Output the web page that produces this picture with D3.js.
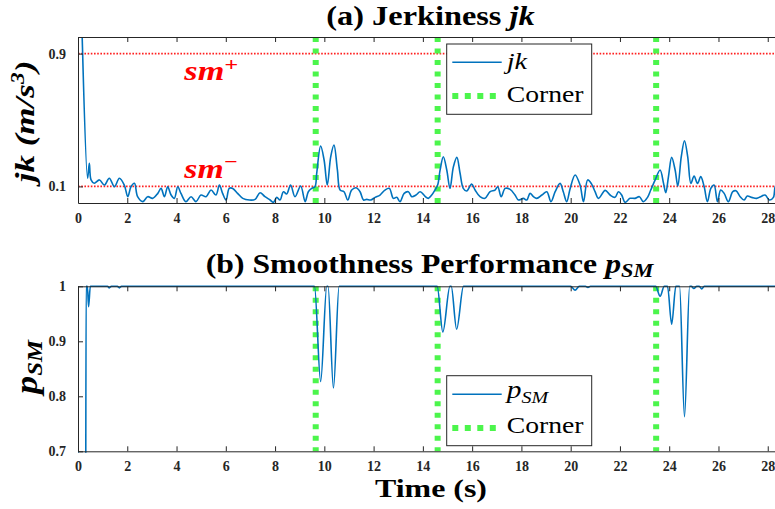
<!DOCTYPE html>
<html>
<head>
<meta charset="utf-8">
<script src="https://cdn.jsdelivr.net/npm/d3@7"></script>
<style>
body { margin: 0; background: #fff; }
svg { display: block; }
</style>
</head>
<body>
<div id="chart"></div>
<script>
const svgWidth = 775;
const svgHeight = 509;

// time ticks shared by both panels
const xTicks = [0, 2, 4, 6, 8, 10, 12, 14, 16, 18, 20, 22, 24, 26, 28];
const jkTicks = [0.1, 0.9];
const pTicks = [0.7, 0.8, 0.9, 1];

// corner instants (s) and smoothness bounds
const corners = [9.65, 14.6, 23.47];
const smBounds = [0.9, 0.1];

// jerkiness jk
const jkTime = [0, 0.04, 0.1, 0.17, 0.39, 0.46, 0.53, 0.66, 0.87, 1.07, 1.27, 1.48, 1.68, 1.88, 2.02, 2.15, 2.29, 2.42, 2.63, 2.83,
  3.03, 3.24, 3.37, 3.51, 3.64, 3.78, 3.91, 4.05, 4.18, 4.38, 4.59, 4.79, 4.99, 5.2, 5.4, 5.6, 5.74, 5.87, 6.01, 6.14,
  6.28, 6.48, 6.69, 6.96, 7.19, 7.39, 7.59, 7.8, 7.93, 8.07, 8.2, 8.34, 8.47, 8.63, 8.81, 9.04, 9.22, 9.35, 9.49, 9.62,
  9.69, 9.85, 9.99, 10.12, 10.26, 10.39, 10.53, 10.64, 10.8, 10.95, 11.11, 11.29, 11.45, 11.59, 11.72, 11.88, 12.06, 12.26, 12.46, 12.64,
  12.8, 12.94, 13.07, 13.24, 13.41, 13.55, 13.72, 13.89, 14.09, 14.22, 14.36, 14.49, 14.6, 14.7, 14.83, 14.97, 15.1, 15.24, 15.38, 15.51,
  15.64, 15.78, 15.98, 16.12, 16.32, 16.52, 16.73, 16.93, 17.04, 17.18, 17.34, 17.54, 17.74, 17.88, 18.08, 18.22, 18.35, 18.49, 18.62, 18.83,
  19.03, 19.2, 19.37, 19.57, 19.7, 19.84, 19.98, 20.18, 20.38, 20.52, 20.69, 20.85, 20.99, 21.13, 21.4, 21.6, 21.8, 21.94, 22.07, 22.21,
  22.41, 22.61, 22.79, 22.95, 23.12, 23.25, 23.43, 23.63, 23.77, 23.86, 23.97, 24.1, 24.24, 24.35, 24.49, 24.62, 24.75, 24.88, 25.01, 25.15,
  25.28, 25.42, 25.55, 25.69, 25.82, 25.96, 26.09, 26.23, 26.4, 26.58, 26.71, 26.88, 27.04, 27.17, 27.35, 27.55, 27.71, 27.89, 28.07, 28.23,
  28.3, 28.4];
const jkValue = [0.52, 1.5, 1.6, 1.0, 0.149, 0.239, 0.139, 0.119, 0.139, 0.108, 0.149, 0.098, 0.149, 0.108, 0.038, 0.098, 0.119, 0.038, 0.008, 0.038,
  0.028, 0.058, 0.088, 0.038, 0.098, 0.048, 0.028, 0.098, 0.058, 0.008, 0.038, 0.008, 0.048, 0.038, 0.078, 0.048, 0.108, 0.058, 0.018, 0.088,
  0.088, 0.058, 0.028, 0.018, 0.022, 0.062, 0.038, 0.018, 0.004, 0.034, 0.018, 0.068, 0.054, 0.108, 0.038, 0.102, 0.008, 0.068, 0.088, 0.098,
  0.179, 0.343, 0.259, 0.108, 0.279, 0.349, 0.199, 0.078, 0.068, 0.018, 0.078, 0.092, 0.068, 0.018, 0.022, 0.018, 0.034, 0.048, 0.078, 0.088,
  0.028, 0.034, 0.008, 0.058, 0.068, 0.038, 0.048, 0.068, 0.04, 0.028, 0.048, 0.078, 0.108, 0.199, 0.279, 0.199, 0.088, 0.219, 0.275, 0.179,
  0.088, 0.072, 0.114, 0.078, 0.038, 0.028, 0.068, 0.078, 0.098, 0.038, 0.088, 0.082, 0.048, 0.018, 0.028, 0.018, 0.058, 0.038, 0.028, 0.048,
  0.068, 0.008, 0.068, 0.118, 0.068, 0.008, 0.088, 0.169, 0.108, 0.008, 0.139, 0.114, 0.068, 0.028, 0.076, 0.048, 0.034, 0.068, 0.048, 0.004,
  0.028, 0.028, 0.038, 0.008, 0.034, 0.078, 0.139, 0.199, 0.118, 0.062, 0.159, 0.275, 0.199, 0.102, 0.279, 0.375, 0.279, 0.118, 0.163, 0.118,
  0.159, 0.098, 0.008, 0.088, 0.108, 0.008, 0.078, 0.058, 0.008, 0.068, 0.074, 0.038, 0.018, 0.042, 0.034, 0.028, 0.038, 0.048, 0.018, 0.034,
  0.098, 0.12];

// smoothness performance p_SM
const pTime = [0, 0.02, 0.3, 0.33, 0.38, 0.43, 0.5, 1.2, 1.27, 1.35, 1.6, 1.68, 1.76, 9.6, 9.85, 10.1, 10.15, 10.37, 10.6,
  14.58, 14.81, 15.1, 15.15, 15.37, 15.65, 20.0, 20.18, 20.35, 20.6, 20.7, 20.8, 23.45, 23.63, 23.8, 23.93, 24.1, 24.27,
  24.42, 24.62, 24.83, 24.9, 25.0, 25.12, 25.22, 25.32, 25.42, 28.4];
const pValue = [1, 0.3, 0.3, 1, 1, 0.963, 1, 1, 0.997, 1, 1, 0.997, 1, 1, 0.827, 1, 1, 0.815, 1,
  1, 0.917, 1, 1, 0.922, 1, 1, 0.993, 1, 1, 0.998, 1, 1, 0.982, 1, 1, 0.931, 1,
  1, 0.763, 1, 1, 0.996, 1, 1, 0.995, 1, 1];

const blue = "#0072BD";
const green = "#4cf54c";
const red = "#ff2020";
const ink = "#262626";
const serif = "'Liberation Serif', 'Times New Roman', serif";

const svg = d3.select("#chart").append("svg")
  .attr("width", svgWidth)
  .attr("height", svgHeight);

const x = d3.scaleLinear().domain([0, 28.4]).range([78, 777.6]);
const yJk = d3.scaleLinear().domain([0, 1]).range([203, 37]);
const yP = d3.scaleLinear().domain([0.7, 1]).range([451.3, 286.3]);

function clipFor(id, yScale, pad) {
  const [b, t] = yScale.range();
  svg.append("clipPath").attr("id", id)
    .append("rect")
    .attr("x", x.range()[0]).attr("y", t - pad)
    .attr("width", x.range()[1] - x.range()[0]).attr("height", b - t + 2 * pad);
}
clipFor("clipJk", yJk, 0);
clipFor("clipP", yP, 1.5);

function styleAxis(g) {
  g.attr("font-family", serif).attr("font-size", 14).attr("font-weight", "bold");
  g.select(".domain").attr("stroke", ink).attr("stroke-width", 1);
  g.selectAll(".tick line").attr("stroke", ink).attr("stroke-width", 1);
  g.selectAll(".tick text").attr("fill", ink);
}

function drawAxes(yScale, yTickVals) {
  const [b, t] = yScale.range();
  svg.append("g")
    .attr("transform", `translate(0,${b})`)
    .call(d3.axisBottom(x).tickValues(xTicks).tickSizeInner(-5).tickSizeOuter(0).tickPadding(10))
    .call(styleAxis);
  svg.append("g")
    .attr("transform", `translate(0,${t})`)
    .call(d3.axisTop(x).tickValues(xTicks).tickSizeInner(-5).tickSizeOuter(0).tickFormat(""))
    .call(styleAxis);
  svg.append("g")
    .attr("transform", `translate(${x.range()[0]},0)`)
    .call(d3.axisLeft(yScale).tickValues(yTickVals).tickSizeInner(-5).tickSizeOuter(0).tickPadding(12).tickFormat(d3.format("")))
    .call(styleAxis);
}

function drawCorners(yScale) {
  const [b, t] = yScale.range();
  svg.append("g").selectAll("line")
    .data(corners)
    .enter()
    .append("line")
    .attr("x1", d => x(d)).attr("x2", d => x(d))
    .attr("y1", t).attr("y2", b)
    .attr("stroke", green)
    .attr("stroke-width", 6)
    .attr("stroke-dasharray", "5,6.5");
}

// text helper: stretches the text to the measured width of the original
function label(parts, opt) {
  const g = svg.append("g")
    .attr("transform", `translate(${opt.x},${opt.y}) rotate(${opt.rotate || 0})`);
  const t = g.append("text")
    .attr("text-anchor", opt.anchor || "middle")
    .style("font-family", serif)
    .attr("font-size", opt.size)
    .attr("fill", opt.fill || "#000");
  parts.forEach(p => {
    t.append("tspan")
      .text(p.text)
      .attr("font-weight", p.weight || opt.weight || "normal")
      .attr("font-style", p.style || opt.style || "normal")
      .attr("font-size", p.size || null)
      .attr("dy", p.dy || null);
  });
  if (opt.width) {
    const bw = t.node().getBBox().width;
    t.attr("transform", `scale(${opt.width / bw},1)`);
  }
  return g;
}

// ---------- panel (a) ----------
svg.append("g").selectAll("line")
  .data(smBounds)
  .enter()
  .append("line")
  .attr("x1", x.range()[0]).attr("x2", x.range()[1])
  .attr("y1", d => yJk(d)).attr("y2", d => yJk(d))
  .attr("stroke", red)
  .attr("stroke-width", 1.6)
  .attr("stroke-dasharray", "1.6,1.6");

drawCorners(yJk);

const jkLine = d3.line()
  .x((d, i) => x(jkTime[i]))
  .y(d => yJk(d))
  .curve(d3.curveCatmullRom.alpha(0.5));

svg.append("path")
  .datum(jkValue)
  .attr("clip-path", "url(#clipJk)")
  .attr("fill", "none")
  .attr("stroke", blue)
  .attr("stroke-width", 1.6)
  .attr("d", jkLine);

drawAxes(yJk, jkTicks);

label([{ text: "sm" }, { text: "+", size: 19, dy: -9 }],
  { x: 184.3, y: 80, anchor: "start", size: 27, weight: "bold", style: "italic", fill: "red", width: 55 });
label([{ text: "sm" }, { text: "\u2212", size: 19, dy: -10 }],
  { x: 184.3, y: 178.3, anchor: "start", size: 27, weight: "bold", style: "italic", fill: "red", width: 55 });

// legend (a)
svg.append("rect")
  .attr("x", 446.7).attr("y", 44).attr("width", 145).attr("height", 70.3)
  .attr("fill", "#fff").attr("stroke", ink).attr("stroke-width", 1);
svg.append("line")
  .attr("x1", 452.3).attr("x2", 501.7).attr("y1", 62.3).attr("y2", 62.3)
  .attr("stroke", blue).attr("stroke-width", 1.6);
svg.append("line")
  .attr("x1", 452.3).attr("x2", 501.7).attr("y1", 96).attr("y2", 96)
  .attr("stroke", green).attr("stroke-width", 6).attr("stroke-dasharray", "6,6.5");
label([{ text: "jk" }], { x: 506.7, y: 69.3, anchor: "start", size: 23, style: "italic", width: 25 });
label([{ text: "Corner" }], { x: 506.7, y: 101.7, anchor: "start", size: 23, width: 77.3 });

// ---------- panel (b) ----------
drawCorners(yP);

const pLine = d3.line()
  .x((d, i) => x(pTime[i]))
  .y(d => yP(d))
  .curve(d3.curveMonotoneX);

svg.append("path")
  .datum(pValue)
  .attr("clip-path", "url(#clipP)")
  .attr("fill", "none")
  .attr("stroke", blue)
  .attr("stroke-width", 1.6)
  .attr("d", pLine);

drawAxes(yP, pTicks);

// legend (b)
svg.append("rect")
  .attr("x", 446.7).attr("y", 375.7).attr("width", 145).attr("height", 70)
  .attr("fill", "#fff").attr("stroke", ink).attr("stroke-width", 1);
svg.append("line")
  .attr("x1", 452.3).attr("x2", 501.7).attr("y1", 394.3).attr("y2", 394.3)
  .attr("stroke", blue).attr("stroke-width", 1.6);
svg.append("line")
  .attr("x1", 452.3).attr("x2", 501.7).attr("y1", 428).attr("y2", 428)
  .attr("stroke", green).attr("stroke-width", 6).attr("stroke-dasharray", "6,6.5");
label([{ text: "p", style: "italic" }, { text: "SM", style: "italic", size: 17, dy: 5 }],
  { x: 506.7, y: 398.3, anchor: "start", size: 25, width: 44.7 });
label([{ text: "Corner" }], { x: 506.7, y: 433.3, anchor: "start", size: 23, width: 77.3 });

// ---------- titles and axis labels ----------
label([{ text: "(a) Jerkiness " }, { text: "jk", style: "italic" }],
  { x: 430.5, y: 25, size: 27, weight: "bold", width: 209 });
label([{ text: "(b) Smoothness Performance " }, { text: "p", style: "italic" }, { text: "SM", style: "italic", size: 19, dy: 4 }],
  { x: 429.5, y: 273, size: 27, weight: "bold", width: 449 });
label([{ text: "Time (s)" }],
  { x: 431, y: 497, size: 26, weight: "bold", width: 112 });
label([{ text: "jk" }, { text: " (m/s" }, { text: "3", size: 18, dy: -10 }, { text: ")", dy: 10 }],
  { x: 34, y: 121.5, rotate: -90, size: 27, weight: "bold", style: "italic", width: 127 });
label([{ text: "p" }, { text: "SM", size: 21, dy: 5 }],
  { x: 37, y: 367, rotate: -90, size: 31, weight: "bold", style: "italic", width: 59 });
</script>
</body>
</html>
